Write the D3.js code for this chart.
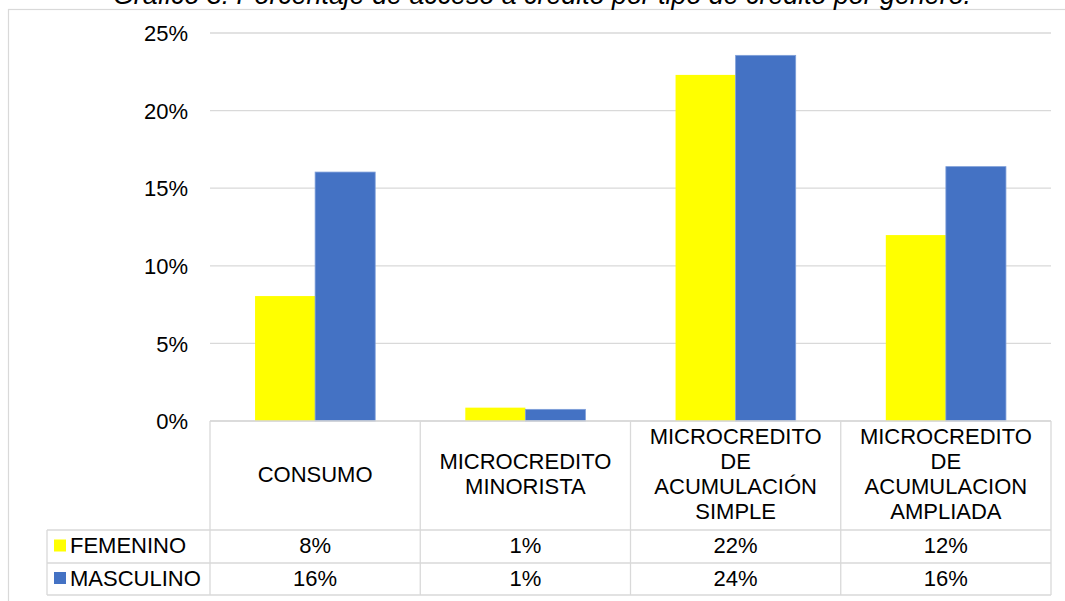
<!DOCTYPE html>
<html>
<head>
<meta charset="utf-8">
<script src="https://cdn.jsdelivr.net/npm/d3@7"></script>
<style>
  html, body { margin: 0; padding: 0; background: #fff; }
  svg { display: block; font-family: "Liberation Sans", Arial, sans-serif; }
</style>
</head>
<body>
<svg id="chart" width="1065" height="601"></svg>
<script>
const title = "Gráfico 3: Porcentaje de acceso a crédito por tipo de crédito por género.";
const categories = ["CONSUMO", "MICROCREDITO MINORISTA", "MICROCREDITO DE ACUMULACIÓN SIMPLE", "MICROCREDITO DE ACUMULACION AMPLIADA"];
const categoryLines = [["CONSUMO"], ["MICROCREDITO", "MINORISTA"], ["MICROCREDITO", "DE", "ACUMULACIÓN", "SIMPLE"], ["MICROCREDITO", "DE", "ACUMULACION", "AMPLIADA"]];
const seriesNames = ["FEMENINO", "MASCULINO"];
const femenino = [0.0805, 0.0086, 0.223, 0.1198];
const masculino = [0.1604, 0.0075, 0.2356, 0.1639];
const femeninoLabels = ["8%", "1%", "22%", "12%"];
const masculinoLabels = ["16%", "1%", "24%", "16%"];
const yTicks = [0, 0.05, 0.10, 0.15, 0.20, 0.25];
const colors = ["#FFFF00", "#4472C4"];

const seriesValues = [femenino, masculino];
const seriesLabels = [femeninoLabels, masculinoLabels];

const svg = d3.select("#chart");
const grid = "#d9d9d9";
const fontSize = 22;

// outer chart border
svg.append("rect").attr("x", 8.5).attr("y", 9.5).attr("width", 1070).attr("height", 620)
  .attr("fill", "none").attr("stroke", grid).attr("stroke-width", 1.2);

// title (partially cut off at top)
svg.append("text").attr("x", 542).attr("y", 4).attr("text-anchor", "middle")
  .attr("font-style", "italic").attr("font-size", 26.8).attr("fill", "#000").text(title);

const plotLeft = 210, plotRight = 1051, plotTop = 33, plotBottom = 421;
const x = d3.scaleBand().domain(categories).range([plotLeft, plotRight]).padding(0);
const x1 = d3.scaleBand().domain(seriesNames).range([0, x.bandwidth()]).paddingInner(0).paddingOuter(0.75);
const y = d3.scaleLinear().domain([0, 0.25]).range([plotBottom, plotTop]);

// gridlines
svg.append("g").selectAll("line").data(yTicks).join("line")
  .attr("x1", plotLeft).attr("x2", plotRight)
  .attr("y1", d => y(d)).attr("y2", d => y(d))
  .attr("stroke", grid).attr("stroke-width", 1.3);

// y axis labels
const yAxis = d3.axisLeft(y).tickValues(yTicks).tickFormat(d3.format(".0%")).tickSize(0).tickPadding(0);
const ya = svg.append("g").attr("transform", `translate(188,0)`).call(yAxis);
ya.select(".domain").remove();
ya.selectAll("text").attr("font-size", fontSize).attr("font-family", "Liberation Sans, Arial, sans-serif").attr("fill", "#000").attr("dy", "0.35em");

// bars
seriesNames.forEach((s, si) => {
  svg.append("g").selectAll("rect").data(seriesValues[si]).join("rect")
    .attr("x", (d, i) => x(categories[i]) + x1(s))
    .attr("width", x1.bandwidth())
    .attr("y", d => y(d))
    .attr("height", d => y(0) - y(d))
    .attr("fill", colors[si])
    .attr("stroke", si === 1 ? "#7f9fd9" : "none").attr("stroke-width", 0.8);
});

// data table
const rowHeader = [421, 530], rowF = [530, 563], rowM = [563, 595];
const legendLeft = 47;
const t = svg.append("g");
// horizontal lines
t.append("line").attr("x1", plotLeft).attr("x2", plotRight).attr("y1", 421).attr("y2", 421).attr("stroke", grid).attr("stroke-width", 1.3);
[530, 563, 595].forEach(yy => {
  t.append("line").attr("x1", legendLeft).attr("x2", plotRight).attr("y1", yy).attr("y2", yy).attr("stroke", grid).attr("stroke-width", 1.3);
});
// vertical lines
const edges = categories.map(c => x(c)).concat([plotRight]);
edges.forEach(xx => {
  t.append("line").attr("x1", xx).attr("x2", xx).attr("y1", 421).attr("y2", 595).attr("stroke", grid).attr("stroke-width", 1.3);
});
t.append("line").attr("x1", legendLeft).attr("x2", legendLeft).attr("y1", 530).attr("y2", 595).attr("stroke", grid).attr("stroke-width", 1.3);

// header labels
const lh = 25;
categories.forEach((c, i) => {
  const lines = categoryLines[i];
  const cx = x(c) + x.bandwidth() / 2;
  const cy = 474;
  lines.forEach((ln, j) => {
    t.append("text").attr("x", cx).attr("y", cy + (j - (lines.length - 1) / 2) * lh)
      .attr("dy", "0.35em").attr("text-anchor", "middle").attr("font-size", fontSize).attr("fill", "#000").text(ln);
  });
});

// series rows
const rows = [rowF, rowM];
seriesNames.forEach((s, si) => {
  const cy = (rows[si][0] + rows[si][1]) / 2 - 1;
  t.append("rect").attr("x", 54).attr("y", cy - 6).attr("width", 12).attr("height", 12).attr("fill", colors[si]);
  t.append("text").attr("x", 70).attr("y", cy).attr("dy", "0.35em").attr("font-size", fontSize).attr("fill", "#000").text(s);
  seriesLabels[si].forEach((lab, i) => {
    t.append("text").attr("x", x(categories[i]) + x.bandwidth() / 2).attr("y", cy).attr("dy", "0.35em")
      .attr("text-anchor", "middle").attr("font-size", fontSize).attr("fill", "#000").text(lab);
  });
});
</script>
</body>
</html>
